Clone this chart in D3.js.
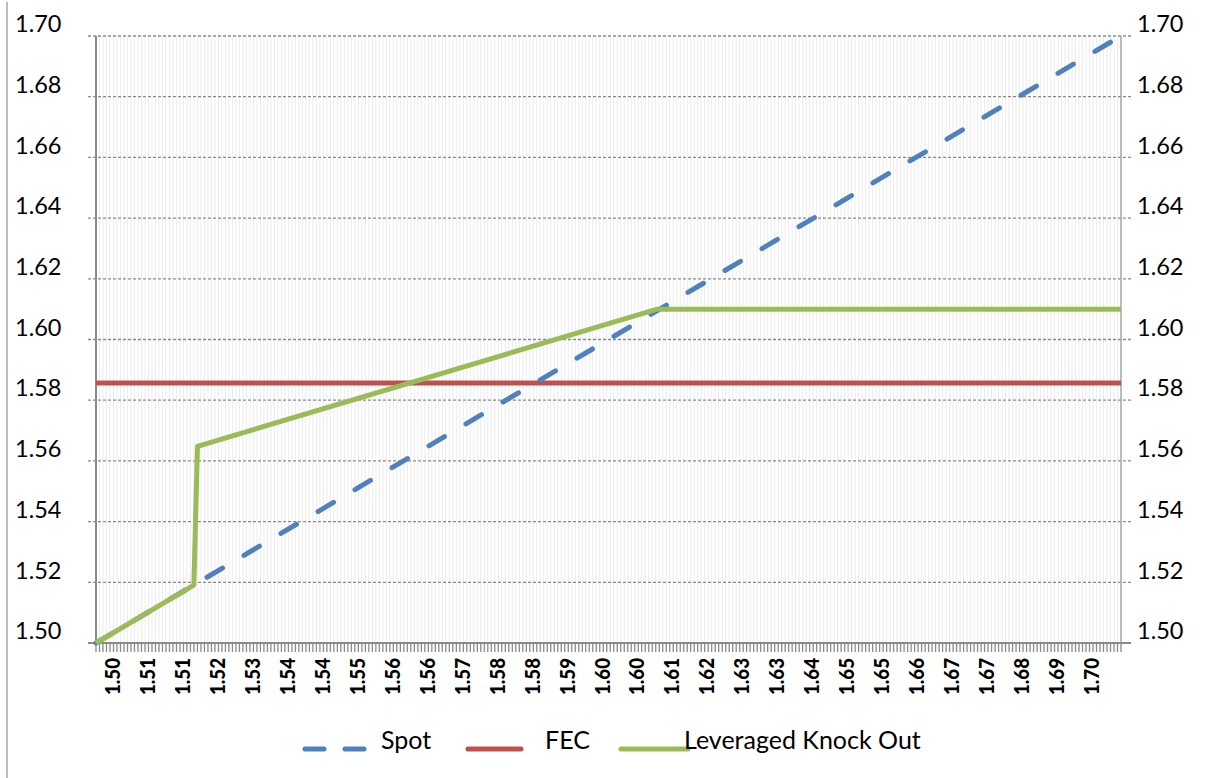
<!DOCTYPE html>
<html>
<head>
<meta charset="utf-8">
<script src="https://cdn.jsdelivr.net/npm/d3@7"></script>
<style>
  html, body { margin: 0; padding: 0; background: #ffffff; }
  svg { display: block; }
  text { font-family: Lato, "Open Sans", sans-serif; fill: #000; }
</style>
</head>
<body>
<svg id="chart" width="1206" height="778"></svg>
<script>
// ---------------- data ----------------
const yTicks = [1.50, 1.52, 1.54, 1.56, 1.58, 1.60, 1.62, 1.64, 1.66, 1.68, 1.70];
const xTickLabels = ["1.50","1.51","1.51","1.52","1.53","1.54","1.54","1.55","1.56","1.56",
  "1.57","1.58","1.58","1.59","1.60","1.60","1.61","1.62","1.63","1.63",
  "1.64","1.65","1.65","1.66","1.67","1.67","1.68","1.69","1.70"];
const categoryCount = 294;          // number of category points on the x axis
const labelEvery = 10;              // one label every 10 categories
const spotX = [1.50, 1.70];
const spotY = [1.50, 1.70];
const fecX = [1.50, 1.70];
const fecY = [1.5857, 1.5857];
const lkoX = [1.50, 1.5191, 1.5198, 1.6095, 1.70];
const lkoY = [1.50, 1.5191, 1.5648, 1.61, 1.61];
const seriesNames = ["Spot", "FEC", "Leveraged Knock Out"];
const seriesColors = ["#4f81bd", "#c0504d", "#9bbb59"];

// ---------------- layout ----------------
const svg = d3.select("#chart");
const L = 96, R = 1121, T = 36, B = 643;
const x = d3.scaleLinear().domain([1.50, 1.70]).range([L, R]);
const xc = d3.scaleLinear().domain([0, categoryCount - 1]).range([L, R]);
const y = d3.scaleLinear().domain([1.50, 1.70]).range([B, T]);

// chart-area left border
svg.append("line").attr("x1", 7).attr("x2", 7).attr("y1", 2).attr("y2", 778)
  .attr("stroke", "#bdbdbd").attr("stroke-width", 2);

// vertical category gridlines
svg.append("g").selectAll("line").data(d3.range(1, categoryCount - 1)).join("line")
  .attr("x1", d => xc(d)).attr("x2", d => xc(d)).attr("y1", T).attr("y2", B)
  .attr("stroke", "#ececec").attr("stroke-width", 1);

// horizontal gridlines (dashed) + tick extensions
const gy = svg.append("g");
gy.selectAll("line.grid").data(yTicks.filter(v => v > 1.50)).join("line")
  .attr("class", "grid")
  .attr("x1", L - 8).attr("x2", R + 10)
  .attr("y1", d => y(d)).attr("y2", d => y(d))
  .attr("stroke", "#8a8a8a").attr("stroke-width", 1.3).attr("stroke-dasharray", "3,2");

// left and right axis lines
svg.append("line").attr("x1", L).attr("x2", L).attr("y1", T).attr("y2", B)
  .attr("stroke", "#8a8a8a").attr("stroke-width", 2);
svg.append("line").attr("x1", R).attr("x2", R).attr("y1", T).attr("y2", B)
  .attr("stroke", "#a6a6a6").attr("stroke-width", 1.5);

// bottom axis line
svg.append("line").attr("x1", L - 8).attr("x2", R + 10).attr("y1", B).attr("y2", B)
  .attr("stroke", "#8a8a8a").attr("stroke-width", 2);

// category tick marks
svg.append("g").selectAll("line").data(d3.range(0, categoryCount)).join("line")
  .attr("x1", d => xc(d)).attr("x2", d => xc(d)).attr("y1", B).attr("y2", B + 9)
  .attr("stroke", "#8a8a8a").attr("stroke-width", 1.3);

// y labels
const yFmt = d3.format(".2f");
svg.append("g").selectAll("text").data(yTicks).join("text")
  .attr("x", 15).attr("y", d => y(d) - 12).attr("dy", "0.35em")
  .attr("font-size", 23.5).text(d => yFmt(d));
svg.append("g").selectAll("text").data(yTicks).join("text")
  .attr("x", 1137).attr("y", d => y(d) - 12).attr("dy", "0.35em")
  .attr("font-size", 23.5).text(d => yFmt(d));

// x labels (rotated)
svg.append("g").selectAll("text").data(xTickLabels).join("text")
  .attr("transform", (d, i) => `translate(${xc(i * labelEvery) + 16},658) rotate(-90)`)
  .attr("text-anchor", "end").attr("dy", "0.36em")
  .attr("font-size", 21.5).attr("font-weight", 900)
  .attr("textLength", 37).attr("lengthAdjust", "spacingAndGlyphs")
  .text(d => d);

// series
const line = d3.line().x(d => x(d[0])).y(d => y(d[1]));
svg.append("path").datum(d3.zip(fecX, fecY)).attr("d", line)
  .attr("fill", "none").attr("stroke", seriesColors[1]).attr("stroke-width", 5);
svg.append("path").datum(d3.zip(spotX, spotY)).attr("d", line)
  .attr("fill", "none").attr("stroke", seriesColors[0]).attr("stroke-width", 5)
  .attr("stroke-dasharray", "18,25").attr("stroke-linecap", "round");
svg.append("path").datum(d3.zip(lkoX, lkoY)).attr("d", line)
  .attr("fill", "none").attr("stroke", seriesColors[2]).attr("stroke-width", 5)
  .attr("stroke-linejoin", "round");

// legend
const legendItems = [
  {name: seriesNames[0], color: seriesColors[0], x1: 303, x2: 369, tx: 381, dash: "18,25"},
  {name: seriesNames[1], color: seriesColors[1], x1: 466, x2: 523, tx: 545, dash: null},
  {name: seriesNames[2], color: seriesColors[2], x1: 619, x2: 690, tx: 684, dash: null}
];
const lg = svg.append("g");
legendItems.forEach(it => {
  const ln = lg.append("line").attr("x1", it.x1 + 2).attr("x2", it.x2 - 2)
    .attr("y1", 749).attr("y2", 749)
    .attr("stroke", it.color).attr("stroke-width", 5).attr("stroke-linecap", "round");
  if (it.dash) ln.attr("stroke-dasharray", "19,21");
  lg.append("text").attr("x", it.tx).attr("y", 740).attr("dy", "0.35em")
    .attr("font-size", 25).text(it.name);
});
</script>
</body>
</html>
